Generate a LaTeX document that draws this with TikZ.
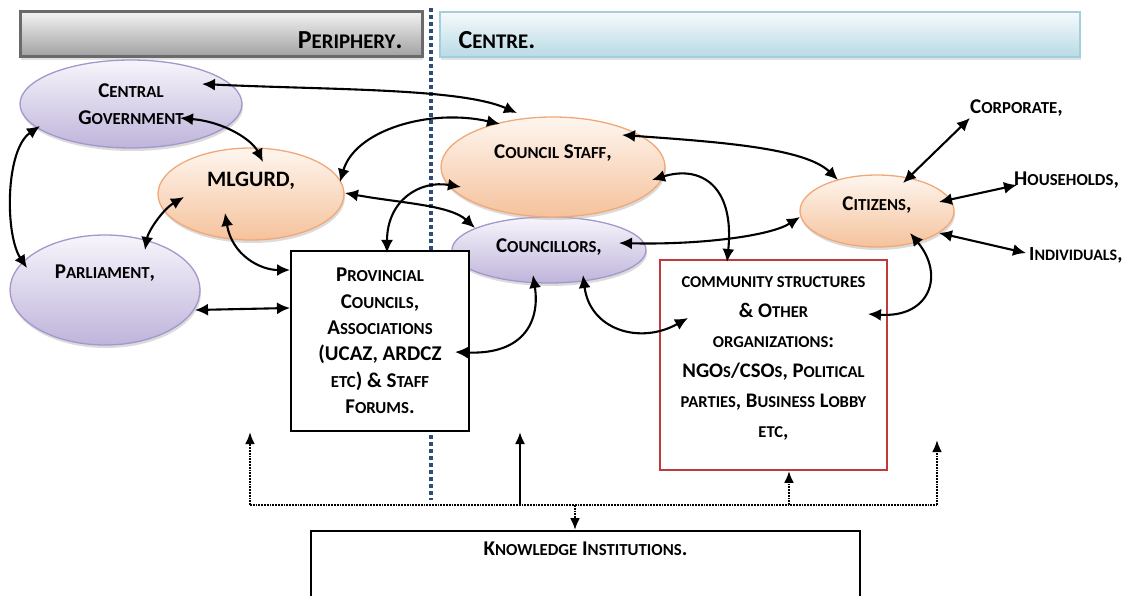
\documentclass[tikz,border=0pt]{standalone}
\usepackage{fontspec}
\setmainfont{Carlito}
\usetikzlibrary{arrows.meta,shapes.geometric,shadows,calc}
\makeatletter
\newdimen\scdim
\newcommand\sct[1]{{\scdim=\f@size pt\relax\scdim=0.8\scdim\fontsize{\strip@pt\scdim}{\strip@pt\scdim}\selectfont\MakeUppercase{#1}}}
\makeatother
\definecolor{lavtop}{HTML}{F7F5FB}
\definecolor{lavbot}{HTML}{BFB4DB}
\definecolor{lavline}{HTML}{A497CC}
\definecolor{peatop}{HTML}{FEF6EF}
\definecolor{peabot}{HTML}{F5C29C}
\definecolor{pealine}{HTML}{F0A878}
\definecolor{divblue}{HTML}{2E4D7B}
\definecolor{redline}{HTML}{C0393B}
\definecolor{grtop}{HTML}{F2F2F2}
\definecolor{grbot}{HTML}{A0A0A0}
\definecolor{grline}{HTML}{6A6A6A}
\definecolor{bltop}{HTML}{F6FAFC}
\definecolor{blbot}{HTML}{B8DAE5}
\definecolor{blline}{HTML}{A3CEDD}
\tikzset{
  lav/.style={ellipse, draw=lavline, line width=1.3pt, top color=lavtop, bottom color=lavbot,
    drop shadow={shadow xshift=1pt, shadow yshift=-3pt, fill=gray!55}},
  pea/.style={ellipse, draw=pealine, line width=1.3pt, top color=peatop, bottom color=peabot,
    drop shadow={shadow xshift=1pt, shadow yshift=-3pt, fill=gray!55}},
  txt/.style={font=\fontsize{21}{24}\selectfont\bfseries, text=black, align=center},
  bx/.style={draw=black, line width=1.8pt, fill=white, inner sep=0pt},
  bi/.style={{Latex[length=13pt,width=12pt]}-{Latex[length=13pt,width=12pt]}, line width=2.1pt},
  up/.style={-{Latex[length=12pt,width=10pt]}, line width=2.1pt},
  dots/.style={line width=2.6pt, dash pattern=on 1.8pt off 1pt},
}
\begin{document}
\begin{tikzpicture}[x=1pt,y=-1pt]
\clip (0,0) rectangle (1128,596);
\fill[white] (0,0) rectangle (1128,596);
% headers
\node[draw=grline, line width=3pt, top color=grtop, bottom color=grbot, minimum width=402pt, minimum height=45pt, inner sep=0pt,
  drop shadow={shadow xshift=1pt, shadow yshift=-3pt, fill=gray!45}] (ph) at (221,34.5) {};
\node[font=\fontsize{26}{28}\selectfont\bfseries, anchor=east] (pht) at (406,40) {P\sct{eriphery}.};
\node[draw=blline, line width=2pt, top color=bltop, bottom color=blbot, minimum width=640pt, minimum height=45pt, inner sep=0pt,
  drop shadow={shadow xshift=1pt, shadow yshift=-3pt, fill=gray!45}] (ch) at (760,34.5) {};
\node[font=\fontsize{26}{28}\selectfont\bfseries, anchor=west] (cht) at (455,40) {C\sct{entre}.};
% divider
\coordinate (dvt) at (431,8);
\coordinate (dvb) at (431,500);
\draw[divblue, line width=4pt, dash pattern=on 4pt off 3pt] (dvt) -- (dvb);
% ellipses
\node[lav, minimum width=222pt, minimum height=88pt,
  label={[txt, align=center, font=\fontsize{21}{27}\selectfont\bfseries]center:C\sct{entral}\\G\sct{overnment}}] (cg) at (131,104) {};
\node[pea, minimum width=186pt, minimum height=92pt,
  label={[txt, font=\fontsize{22}{24}\selectfont\bfseries, shift={(0,-13)}]center:MLGURD,}] (ml) at (251,194) {};
\node[lav, minimum width=190pt, minimum height=110pt,
  label={[txt, shift={(0,-17)}]center:P\sct{arliament},}] (pa) at (105,290) {};
\node[lav, minimum width=194pt, minimum height=66pt,
  label={[txt, shift={(0,-3)}]center:C\sct{ouncillors},}] (co) at (549,250) {};
\node[pea, minimum width=224pt, minimum height=100pt,
  label={[txt, shift={(0,-14)}]center:C\sct{ouncil} S\sct{taff},}] (cs) at (553,167) {};
\node[pea, minimum width=154pt, minimum height=72pt,
  label={[txt, shift={(0,-6)}]center:C\sct{itizens},}] (ci) at (877,211) {};
% boxes
\node[bx, minimum width=178pt, minimum height=180pt, font=\fontsize{21}{26.4}\selectfont\bfseries, align=center] (pr) at (380,341)
  {P\sct{rovincial}\\C\sct{ouncils},\\A\sct{ssociations}\\(UCAZ, ARDCZ\\\sct{etc}) \& S\sct{taff}\\F\sct{orums}.};
\node[bx, draw=redline, minimum width=227pt, minimum height=210pt] (cm) at (773.5,365) {};
\node[font=\fontsize{20.7}{30}\selectfont\bfseries, align=center] (cmt) at (773.5,358)
  {\sct{community structures}\\\& O\sct{ther}\\\sct{organizations}:\\NGO\sct{s}/CSO\sct{s}, P\sct{olitical}\\\sct{parties}, B\sct{usiness} L\sct{obby}\\\sct{etc},};
\node[bx, minimum width=549pt, minimum height=80pt,
  label={[font=\fontsize{21}{22}\selectfont\bfseries, anchor=north, yshift=-8pt]north:K\sct{nowledge} I\sct{nstitutions}.}] (kn) at (585.5,571) {};
% outer labels
\node[txt, anchor=west, inner sep=0pt] (corp) at (970,108) {C\sct{orporate},};
\node[txt, anchor=west, inner sep=0pt] (hh) at (1014,180) {H\sct{ouseholds},};
\node[txt, font=\fontsize{20}{22}\selectfont\bfseries, anchor=west, inner sep=0pt] (ind) at (1029,255) {I\sct{ndividuals},};
% connectors
\draw[bi] ([shift={(71,-20)}]cg.center) .. controls (330,90) and (460,88) .. ([shift={(-36,-54)}]cs.center);
\draw[bi] ([shift={(49,14)}]cg.center) .. controls (225,122) and (252,140) .. ([shift={(12,-32)}]ml.center);
\draw[bi] ([shift={(-91,22)}]cg.center) .. controls (5,150) and (5,235) .. ([shift={(-78,-22)}]pa.center);
\draw[bi] ([shift={(89,-12)}]ml.center) .. controls (355,130) and (430,108) .. ([shift={(-53,-43)}]cs.center);
\draw[bi] ([shift={(94,-1)}]ml.center) .. controls (400,203) and (450,205) .. ([shift={(-74,-22)}]co.center);
\draw[bi] ([shift={(7,-88)}]pr.center) .. controls (387,200) and (420,180) .. ([shift={(-92,20)}]cs.center);
\draw[bi] ([shift={(-26,19)}]ml.center) .. controls (232,255) and (260,270) .. ([shift={(-90,-71)}]pr.center);
\draw[bi] ([shift={(-67,3)}]ml.center) .. controls (162,210) and (148,232) .. ([shift={(40,-40)}]pa.center);
\draw[bi] ([shift={(90,20)}]pa.center) -- ([shift={(-90,-33)}]pr.center);
\draw[bi] ([shift={(75,11)}]pr.center) .. controls (525,355) and (540,320) .. ([shift={(-16,25)}]co.center);
\draw[bi] ([shift={(34,25)}]co.center) .. controls (590,330) and (640,345) .. ([shift={(-85.5,-47)}]cm.center);
\draw[bi] ([shift={(99,13)}]cs.center) .. controls (700,165) and (735,185) .. ([shift={(-46.5,-103)}]cm.center);
\draw[bi] ([shift={(69,-32)}]cs.center) .. controls (720,142) and (805,148) .. ([shift={(-39,-31)}]ci.center);
\draw[bi] ([shift={(70,-7)}]co.center) .. controls (700,245) and (770,236) .. ([shift={(-77,6)}]ci.center);
\draw[bi] ([shift={(33,22)}]ci.center) .. controls (945,275) and (930,318) .. ([shift={(94.5,-51)}]cm.center);
\draw[bi] ([shift={(26,-28)}]ci.center) -- ([shift={(0,10)}]corp.west);
\draw[bi] ([shift={(62,-9)}]ci.center) -- ([shift={(3,5)}]hh.west);
\draw[bi] ([shift={(62,22)}]ci.center) -- ([shift={(-3,-2)}]ind.west);
% knowledge bus
\coordinate (b1) at (250,505);
\coordinate (b2) at (937,505);
\coordinate (bs) at (520,505);
\coordinate (bk) at (575,505);
\coordinate (bc) at (789,505);
\coordinate (t1) at (250,432);
\coordinate (t2) at (520,432);
\coordinate (t4) at (937,440);
\draw[dots] (b1) -- (b2);
\draw[dots, -{Latex[length=12pt,width=10pt]}] (b1) -- (t1);
\draw[dots, -{Latex[length=12pt,width=10pt]}] (b2) -- (t4);
\draw[dots, -{Latex[length=12pt,width=10pt]}] (bc) -- (cm.south -| bc);
\draw[dots, -{Latex[length=12pt,width=10pt]}] (bk) -- (kn.north -| bk);
\draw[up] (bs) -- (t2);
\end{tikzpicture}
\end{document}
